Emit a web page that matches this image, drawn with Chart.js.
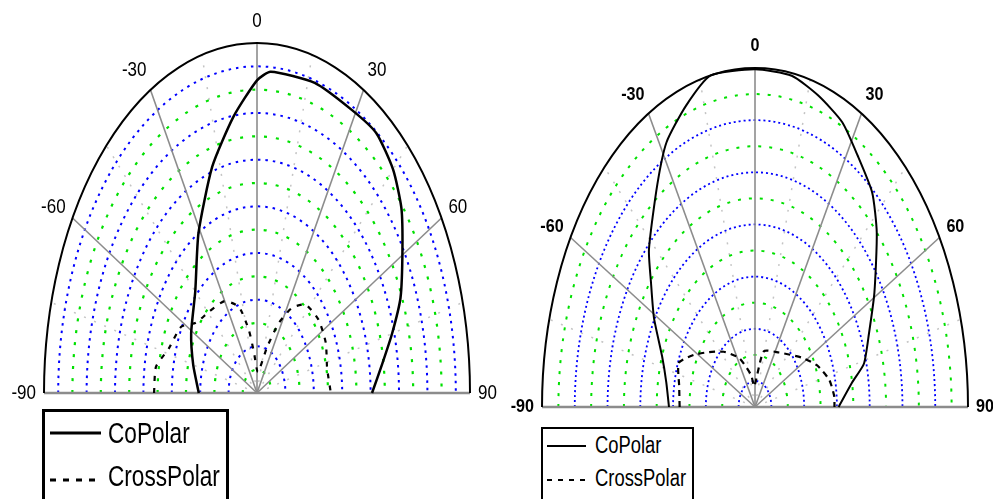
<!DOCTYPE html>
<html>
<head>
<meta charset="utf-8">
<script src="https://cdn.jsdelivr.net/npm/chart.js@4.4.1/dist/chart.umd.min.js"></script>
<style>
  body { margin: 0; background: #fff; width: 993px; height: 499px; overflow: hidden; position: relative;
         font-family: "Liberation Sans", Arial, sans-serif; }
  canvas { position: absolute; top: 0; }
  #c1 { left: 0; }
  #c2 { left: 500px; }
  .box { position: absolute; border: solid #000; box-sizing: border-box; }
  .sample { position: absolute; overflow: visible; }
  .lbl { position: absolute; white-space: nowrap; transform-origin: 0 0; color: #000; }
</style>
</head>
<body>
<canvas id="c1" width="500" height="420"></canvas>
<canvas id="c2" width="493" height="420"></canvas>

<div class="box" style="left:42px;top:409px;width:187px;height:100px;border-width:3px"></div>
<svg class="sample" style="left:50px;top:429px" width="52" height="8"><line x1="0" y1="4" x2="51" y2="4" stroke="#000" stroke-width="3"/></svg>
<svg class="sample" style="left:50px;top:476px" width="52" height="8"><line x1="0" y1="4" x2="51" y2="4" stroke="#000" stroke-width="3" stroke-dasharray="6 7"/></svg>
<div class="lbl" style="left:108px;top:419px;font-size:29px;line-height:29px;transform:scaleX(0.78)">CoPolar</div>
<div class="lbl" style="left:108px;top:462px;font-size:29px;line-height:29px;transform:scaleX(0.78)">CrossPolar</div>

<div class="box" style="left:541px;top:427px;width:153px;height:80px;border-width:2px"></div>
<svg class="sample" style="left:547px;top:442px" width="42" height="8"><line x1="0" y1="4" x2="39" y2="4" stroke="#000" stroke-width="2"/></svg>
<svg class="sample" style="left:547px;top:476px" width="42" height="8"><line x1="0" y1="4" x2="40" y2="4" stroke="#000" stroke-width="2" stroke-dasharray="5 6"/></svg>
<div class="lbl" style="left:595px;top:434px;font-size:23px;line-height:23px;transform:scaleX(0.8)">CoPolar</div>
<div class="lbl" style="left:595px;top:467px;font-size:23px;line-height:23px;transform:scaleX(0.8)">CrossPolar</div>

<script>
// angle ticks shown round both patterns (degrees)
const angleTicks = [-90, -60, -30, 0, 30, 60, 90];

// left pattern, level in dB (outer ring 0 dB, centre -30 dB)
const leftCoAngles  = [-90, -75, -61, -45, -31, -18, -8, 0, 4, 17, 29, 37, 45, 52, 59, 68, 75, 82, 90];
const leftCoDb      = [-21.8, -20.7, -19.4, -17.7, -14.0, -9.6, -6.1, -3.2, -2.4, -2.2, -2.3, -2.1, -2.9, -4.2, -6.1, -8.2, -10.3, -12.2, -13.8];
const leftXAngles   = [-90, -81, -73, -62, -55, -44, -30, -19, -12, -7, 4, 20, 27, 34, 42, 54, 66, 78, 90];
const leftXDb       = [-15.5, -15.6, -17.0, -17.9, -19.5, -20.3, -20.9, -22.2, -24.5, -26.5, -28.2, -25.8, -23.3, -21.2, -19.8, -19.3, -19.4, -19.9, -19.6];

// right pattern, level in dB (outer ring 0 dB, centre -26 dB)
const rightCoAngles = [-90, -80, -71, -61, -53, -47, -35, -28, -20, -12, 0, 10, 18, 26, 33, 41, 48, 59, 68, 76, 81, 90];
const rightCoDb     = [-15.5, -15.0, -14.0, -11.9, -10.1, -8.3, -5.2, -3.0, -1.4, 0.0, -0.1, -0.2, -0.9, -1.7, -3.0, -4.2, -6.0, -9.0, -11.0, -12.3, -14.0, -15.8];
const rightXAngles  = [-90, -80, -70, -62, -53, -42, -27, -11, -3, 14, 35, 56, 67, 77, 85, 90];
const rightXDb      = [-16.8, -16.6, -16.1, -17.5, -19.0, -20.3, -21.8, -23.5, -24.4, -21.6, -20.9, -19.2, -17.8, -16.7, -16.3, -16.3];

const rad = d => d * Math.PI / 180;

function toXY(angles, db, floor) {
  return angles.map((a, i) => {
    const r = db[i] - floor;
    return { x: r * Math.sin(rad(a)), y: r * Math.cos(rad(a)) };
  });
}

function makeGrid(cfg) {
  return {
    id: "polarGrid",
    beforeDatasetsDraw(chart) {
      const { ctx, scales: { x, y } } = chart;
      const cx = x.getPixelForValue(0), cy = y.getPixelForValue(0);
      const rx = x.getPixelForValue(cfg.span) - cx;
      const ry = cy - y.getPixelForValue(cfg.span);
      const edge = a => [cx + rx * Math.sin(rad(a)), cy - ry * Math.cos(rad(a))];
      ctx.save();

      // faint radial guides between the spokes
      ctx.strokeStyle = "#c4c4c4"; ctx.lineWidth = 1.5; ctx.setLineDash([2, 9]);
      [-75, -45, -15, 15, 45, 75].forEach(a => {
        const [ex, ey] = edge(a);
        ctx.beginPath(); ctx.moveTo(cx, cy); ctx.lineTo(ex, ey); ctx.stroke();
      });

      // dotted level rings
      for (let k = 1; k < cfg.rings; k++) {
        const blue = (k % 2 === 0) === cfg.evenBlue;
        const st = blue ? cfg.blue : cfg.green;
        ctx.strokeStyle = blue ? "#0000ff" : "#00e000";
        ctx.lineWidth = st.w; ctx.setLineDash(st.dash);
        const f = k / cfg.rings;
        ctx.beginPath(); ctx.ellipse(cx, cy, rx * f, ry * f, 0, Math.PI, 2 * Math.PI); ctx.stroke();
      }

      // spokes and base line
      ctx.setLineDash([]);
      ctx.strokeStyle = "#8c8c8c"; ctx.lineWidth = 1.6;
      [-60, -30, 0, 30, 60].forEach(a => {
        const [ex, ey] = edge(a);
        ctx.beginPath(); ctx.moveTo(cx, cy); ctx.lineTo(ex, ey); ctx.stroke();
      });
      ctx.lineWidth = 2.5;
      ctx.beginPath(); ctx.moveTo(cx - rx, cy); ctx.lineTo(cx + rx, cy); ctx.stroke();

      // outer boundary
      ctx.strokeStyle = "#000"; ctx.lineWidth = 2;
      ctx.beginPath(); ctx.ellipse(cx, cy, rx, ry, 0, Math.PI, 2 * Math.PI); ctx.stroke();

      // angle labels
      ctx.fillStyle = "#000"; ctx.font = cfg.font; ctx.textBaseline = "middle";
      angleTicks.forEach(a => {
        const [ex, ey] = edge(a);
        const px = ex + Math.sin(rad(a)) * 8;
        const py = ey - Math.cos(rad(a)) * 22;
        ctx.textAlign = a === 0 ? "center" : (a > 0 ? "left" : "right");
        ctx.save(); ctx.translate(px, py); ctx.scale(cfg.squeeze, 1);
        ctx.fillText(String(a), 0, 0);
        ctx.restore();
      });
      ctx.restore();
    }
  };
}

function polarChart(el, cfg, co, cross) {
  return new Chart(el, {
    type: "scatter",
    data: {
      datasets: [
        { label: "CoPolar", data: co, showLine: true, borderColor: "#000", borderWidth: cfg.coWidth,
          pointRadius: 0, tension: 0.2, clip: false },
        { label: "CrossPolar", data: cross, showLine: true, borderColor: "#000", borderWidth: 2.2,
          borderDash: cfg.dash, pointRadius: 0, tension: 0.2, clip: false }
      ]
    },
    options: {
      responsive: false,
      animation: false,
      devicePixelRatio: 1,
      layout: { autoPadding: false, padding: cfg.padding },
      plugins: { legend: { display: false }, tooltip: { enabled: false } },
      scales: {
        x: { type: "linear", min: -cfg.span, max: cfg.span, display: false },
        y: { type: "linear", min: 0, max: cfg.span, display: false }
      }
    },
    plugins: [makeGrid(cfg)]
  });
}

const leftCfg = {
  span: 30, rings: 15, evenBlue: true,
  blue: { w: 2, dash: [2.5, 5] }, green: { w: 2.2, dash: [3, 9] },
  font: "20px 'Liberation Sans', Arial, sans-serif", squeeze: 0.85,
  padding: { left: 44, right: 30, top: 43, bottom: 27 },
  coWidth: 2.5, dash: [5, 7]
};
const rightCfg = {
  span: 26, rings: 13, evenBlue: false,
  blue: { w: 1.8, dash: [2, 3] }, green: { w: 2, dash: [3, 8] },
  font: "bold 19px 'Liberation Sans', Arial, sans-serif", squeeze: 0.85,
  padding: { left: 42, right: 25, top: 68, bottom: 13 },
  coWidth: 2, dash: [6, 5]
};

polarChart(document.getElementById("c1"), leftCfg,
  toXY(leftCoAngles, leftCoDb, -30), toXY(leftXAngles, leftXDb, -30));
polarChart(document.getElementById("c2"), rightCfg,
  toXY(rightCoAngles, rightCoDb, -26), toXY(rightXAngles, rightXDb, -26));
</script>
</body>
</html>
